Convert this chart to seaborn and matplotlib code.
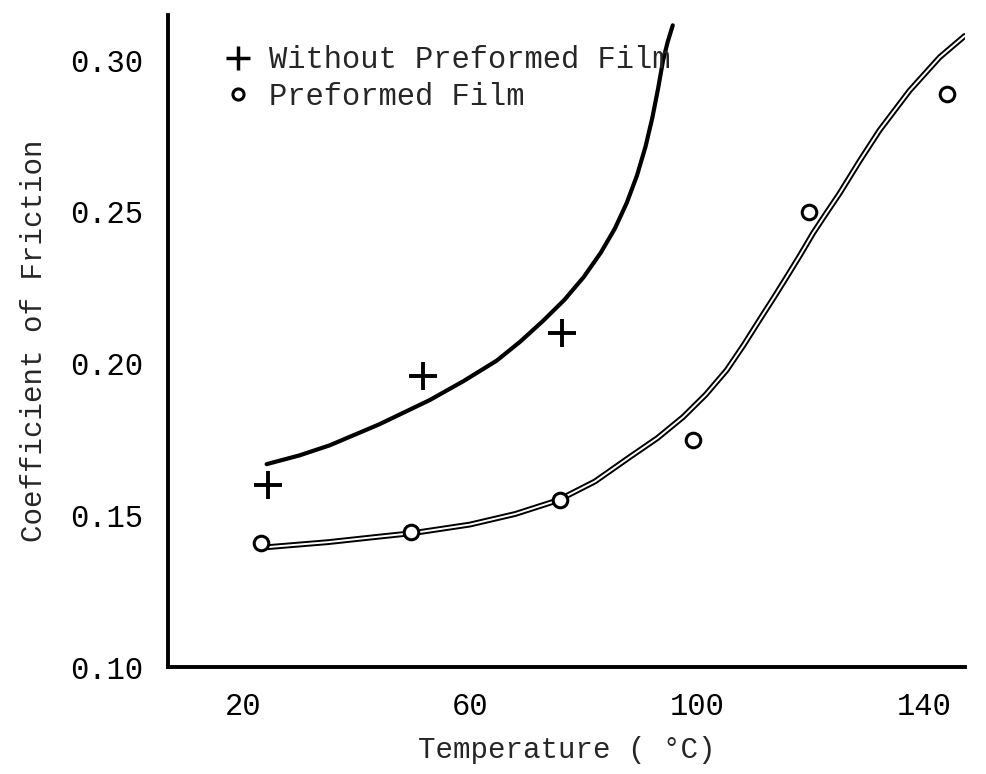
import matplotlib
matplotlib.use("Agg")
import matplotlib.pyplot as plt
import seaborn as sns
import pandas as pd
from matplotlib.lines import Line2D

# data points
temp_without = [24.4, 51.7, 76.2]
cof_without = [0.160, 0.196, 0.210]
temp_film = [23.2, 49.6, 75.8, 99.2, 119.6, 144.0]
cof_film = [0.141, 0.1445, 0.155, 0.175, 0.250, 0.289]

# hand-drawn trend curves
curve_without_t = [24.2, 30.0, 35.3, 44.0, 52.9, 58.8, 64.7, 68.8, 72.8, 76.6, 80.0, 83.0,
                   85.5, 87.6, 89.4, 90.9, 92.1, 93.1, 94.0, 94.8, 95.7]
curve_without_c = [0.1669, 0.1698, 0.1731, 0.1800, 0.1880, 0.1942, 0.2010, 0.2072, 0.2140,
                   0.2210, 0.2285, 0.2365, 0.2445, 0.2530, 0.2620, 0.2715, 0.2810, 0.2905,
                   0.3000, 0.3060, 0.3115]
curve_film_t = [24.0, 35.0, 42.9, 50.0, 60.0, 68.0, 75.5, 82.0, 88.1, 93.0, 97.5, 101.5,
                105.2, 108.2, 111.0, 113.5, 115.8, 118.1, 120.4, 122.8, 125.1, 128.6,
                132.1, 137.4, 142.7, 147.1]
curve_film_c = [0.1395, 0.1412, 0.1428, 0.1442, 0.1470, 0.1505, 0.1550, 0.1612, 0.1692,
                0.1755, 0.1824, 0.1898, 0.1979, 0.2062, 0.2145, 0.2218, 0.2287, 0.2357,
                0.2430, 0.2498, 0.2562, 0.2668, 0.2769, 0.2900, 0.3010, 0.3080]

x_ticks = [20, 60, 100, 140]
y_ticks = [0.10, 0.15, 0.20, 0.25, 0.30]
y_ticklabels = ["0.10", "0.15", "0.20", "0.25", "0.30"]

sns.set_style("white")
plt.rcParams["font.family"] = ["Liberation Mono", "DejaVu Sans Mono"]

fig = plt.figure(figsize=(9.87, 7.74), dpi=100)
ax = fig.add_axes([0.170, 0.138, 0.808, 0.843])

df_w = pd.DataFrame({"t": curve_without_t, "c": curve_without_c})
df_f = pd.DataFrame({"t": curve_film_t, "c": curve_film_c})
sns.lineplot(data=df_w, x="t", y="c", ax=ax, color="black", lw=3.0, sort=False)
sns.lineplot(data=df_f, x="t", y="c", ax=ax, color="black", lw=4.2, sort=False)
sns.lineplot(data=df_f, x="t", y="c", ax=ax, color="white", lw=1.4, sort=False)

pw = pd.DataFrame({"t": temp_without, "c": cof_without})
pf = pd.DataFrame({"t": temp_film, "c": cof_film})
sns.scatterplot(data=pw, x="t", y="c", ax=ax, marker="+", s=380, color="black", linewidth=2.8, zorder=5)
sns.scatterplot(data=pf, x="t", y="c", ax=ax, marker="o", s=110, facecolor="white",
                edgecolor="black", linewidth=2.2, zorder=5)

ax.set_xlim(6.8, 147.2)
ax.set_ylim(0.10, 0.315)
ax.set_xticks(x_ticks)
ax.set_yticks(y_ticks)
ax.set_yticklabels(y_ticklabels)
for s in ["top", "right"]:
    ax.spines[s].set_visible(False)
for s in ["left", "bottom"]:
    ax.spines[s].set_linewidth(2.8)
    ax.spines[s].set_color("black")
ax.tick_params(axis="both", direction="out", length=10, width=2.5, colors="black",
               labelsize=22, pad=8)
ax.set_xlabel("Temperature ( °C)", fontsize=21, labelpad=10)
ax.set_ylabel("Coefficient of Friction", fontsize=21, labelpad=16)

handles = [
    Line2D([], [], marker="+", ls="none", color="black", markersize=17, markeredgewidth=2.5),
    Line2D([], [], marker="o", ls="none", markerfacecolor="white", markeredgecolor="black",
           markersize=8, markeredgewidth=2.2),
]
ax.legend(handles, ["Without Preformed Film", "Preformed Film"], loc="upper left",
          bbox_to_anchor=(0.035, 0.995), frameon=False, fontsize=22, handlelength=1.0,
          handletextpad=0.5, labelspacing=0.2)

fig.savefig("out.png", dpi=100)
